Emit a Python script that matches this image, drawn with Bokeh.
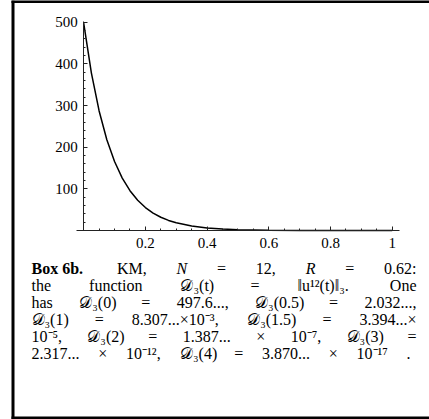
from bokeh.plotting import figure
from bokeh.models import LinearAxis, FixedTicker, NumeralTickFormatter, Label, Range1d
from bokeh.embed import file_html
from bokeh.resources import INLINE

# ---- data ----
t_vals = [0, 0.025, 0.05, 0.075, 0.1, 0.125, 0.15, 0.175, 0.2, 0.225, 0.25, 0.275,
          0.3, 0.35, 0.4, 0.45, 0.5, 0.6, 0.7, 0.8, 0.9, 1.0]
d_vals = [497.6, 378, 287, 218, 165.6, 125.8, 95.6, 72.6, 55.1, 41.9, 31.8, 24.2,
          18.4, 10.6, 6.1, 3.5, 2.03, 0.68, 0.23, 0.075, 0.025, 0.008]
x_ticks = [0.2, 0.4, 0.6, 0.8, 1.0]
x_minor = [0.05, 0.1, 0.15, 0.25, 0.3, 0.35, 0.45, 0.5, 0.55, 0.65, 0.7, 0.75,
           0.85, 0.9, 0.95]
y_ticks = [100, 200, 300, 400, 500]
y_minor = [20, 40, 60, 80, 120, 140, 160, 180, 220, 240, 260, 280, 320, 340, 360,
           380, 420, 440, 460, 480]

caption_lines = [
    [("Box 6b.", "bold"), ("KM,", "normal"), ("N", "italic"), ("=", "normal"),
     ("12,", "normal"), ("R", "italic"), ("=", "normal"), ("0.62:", "normal")],
    [("the", "normal"), ("function", "normal"), ("𝒟₃(t)", "normal"), ("=", "normal"),
     ("‖u¹²(t)‖₃.", "normal"), ("One", "normal")],
    [("has", "normal"), ("𝒟₃(0)", "normal"), ("=", "normal"), ("497.6...,", "normal"),
     ("𝒟₃(0.5)", "normal"), ("=", "normal"), ("2.032...,", "normal")],
    [("𝒟₃(1)", "normal"), ("=", "normal"), ("8.307...×10⁻³,", "normal"), ("𝒟₃(1.5)", "normal"),
     ("=", "normal"), ("3.394...×", "normal")],
    [("10⁻⁵,", "normal"), ("𝒟₃(2)", "normal"), ("=", "normal"), ("1.387...", "normal"),
     ("×", "normal"), ("10⁻⁷,", "normal"), ("𝒟₃(3)", "normal"), ("=", "normal")],
    [("2.317...", "normal"), ("×", "normal"), ("10⁻¹²,", "normal"), ("𝒟₃(4)", "normal"),
     ("=", "normal"), ("3.870...", "normal"), ("×", "normal"), ("10⁻¹⁷", "normal"),
     (".", "normal")],
]

# ---- layout (pixels) ----
WPX, HPX = 429, 419
X0, X1 = 83.2, 391.7      # pixel of t=0 and t=1
Y0, Y500 = 230.0, 21.7    # pixel of D=0 and D=500
sx = (X1 - X0)
sy = (Y0 - Y500) / 500.0


def X(px):
    return (px - X0) / sx


def Y(py):
    return (Y0 - py) / sy


p = figure(width=WPX, height=HPX,
           x_range=Range1d(X(0), X(WPX)), y_range=Range1d(Y(HPX), Y(0)),
           x_axis_type=None, y_axis_type=None,
           toolbar_location=None, output_backend="svg",
           min_border=0, outline_line_color=None)

SERIF = "Liberation Serif"

xa = LinearAxis(fixed_location=0,
                ticker=FixedTicker(ticks=x_ticks, minor_ticks=x_minor),
                formatter=NumeralTickFormatter(format="0.[0]"),
                bounds=(-0.023, 1.025))
ya = LinearAxis(fixed_location=0,
                ticker=FixedTicker(ticks=y_ticks, minor_ticks=y_minor),
                bounds=(0, 502))
for ax in (xa, ya):
    ax.axis_line_color = "#222222"
    ax.axis_line_width = 1
    ax.major_tick_in = 4
    ax.major_tick_out = 0
    ax.minor_tick_in = 2
    ax.minor_tick_out = 0
    ax.major_tick_line_color = "#222222"
    ax.minor_tick_line_color = "#222222"
    ax.major_label_text_font = SERIF
    ax.major_label_text_font_size = "15px"
    ax.major_label_text_color = "black"
xa.major_label_standoff = 7
ya.major_label_standoff = 6
p.add_layout(xa, "below")
p.add_layout(ya, "left")

p.line(t_vals, d_vals, line_color="black", line_width=1.5)

# border (left, top, bottom edges of the box), kept inside the canvas
p.segment(x0=[X(12.5), X(11), X(11)], y0=[Y(0), Y(1), Y(417.5)],
          x1=[X(12.5), X(WPX), X(WPX)], y1=[Y(HPX), Y(1), Y(417.5)],
          line_color="black", line_width=3)

# caption (justified by chunks)
CW = {'.': 0.25, ',': 0.25, ':': 0.278, ' ': 0.25, '=': 0.564, '×': 0.564, '(': 0.333,
      ')': 0.333, '‖': 0.4, '⁻': 0.35, 'B': 0.667, 'o': 0.5, 'x': 0.5, 'b': 0.556,
      'K': 0.722, 'M': 0.889, 'N': 0.667, 'R': 0.611, 't': 0.278, 'h': 0.5, 'e': 0.444,
      'f': 0.333, 'u': 0.5, 'n': 0.5, 'c': 0.444, 'i': 0.278, 'O': 0.722, 'a': 0.444,
      's': 0.389, '𝒟': 0.75}
for ch in "0123456789":
    CW[ch] = 0.5
for ch in "⁰¹²³⁴⁵⁶⁷⁸⁹₀₁₂₃₄₅₆₇₈₉":
    CW[ch] = 0.3

FS = 16
LEFT = 31.0
RIGHTS = [416.0, 416.0, 416.0, 416.0, 416.0, 410.0]
BASE0, LEAD = 268.0, 17.0


def width(s, style):
    return sum(CW.get(c, 0.5) for c in s) * FS * (1.08 if style == "bold" else 1.0)


for i, chunks in enumerate(caption_lines):
    base = BASE0 + i * LEAD
    widths = [width(c[0], c[1]) for c in chunks]
    gap = (RIGHTS[i] - LEFT - sum(widths)) / (len(chunks) - 1)
    x = LEFT
    for (txt, style), w in zip(chunks, widths):
        p.add_layout(Label(x=X(x), y=Y(base), text=txt, text_font=SERIF,
                           text_font_size=f"{FS}px", text_font_style=style,
                           text_color="black", text_baseline="alphabetic",
                           text_align="left"))
        x += w + gap

open("out.html", "w").write(file_html(p, INLINE))
